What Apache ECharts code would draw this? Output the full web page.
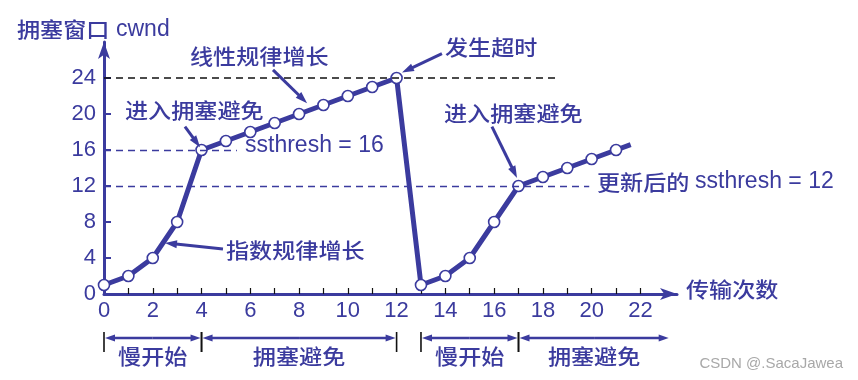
<!DOCTYPE html>
<html><head><meta charset="utf-8">
<script src="https://cdn.jsdelivr.net/npm/echarts@6/dist/echarts.min.js"></script>
<style>html,body{margin:0;padding:0;background:#fff}#c{width:858px;height:380px}</style>
</head><body><div id="c"></div>
<script>
// ---- data ----
const rounds = [0,1,2,3,4,5,6,7,8,9,10,11,12,13,14,15,16,17,18,19,20,21,21.6];
const cwnd   = [1,2,4,8,16,17,18,19,20,21,22,23,24,1,2,4,8,12,13,14,15,16,16.6];
const xLabelValues = [0,2,4,6,8,10,12,14,16,18,20,22];
const xTickValues  = [1,2,3,4,5,6,7,8,9,10,11,12,13,14,15,16,17,18,19,20,21,22];
const yLabelValues = [0,4,8,12,16,20,24];
const timeoutCwnd = 24;
const ssthresh1 = 16;
const ssthresh2 = 12;
const phaseNames = ['慢开始','拥塞避免','慢开始','拥塞避免'];
const phaseStart = [0,4,13,17];
const phaseEnd   = [4,12,17,23.2];

// ---- style ----
const BLUE = '#3b3b9e';
const CJK = '"Noto Sans CJK SC", sans-serif';
const LAT = '"Liberation Sans", Arial, sans-serif';
const CJKFONT = '500 21px ' + CJK;
const LATFONT = '23px ' + LAT;

const chart = echarts.init(document.getElementById('c'), null, {renderer:'canvas'});

const option = {
  backgroundColor:'#fff',
  animation:false,
  grid:{left:104, right:181, top:42, bottom:86, containLabel:false},
  xAxis:{
    type:'value', min:0, max:23.5,
    axisLine:{show:true, symbol:['none','arrow'], symbolSize:[9,17], lineStyle:{color:BLUE, width:3}},
    axisTick:{show:true, inside:true, length:6, customValues:xTickValues, lineStyle:{color:'#111', width:1.2}},
    axisLabel:{customValues:xLabelValues, color:BLUE, fontFamily:LAT, fontSize:22, margin:6},
    splitLine:{show:false}
  },
  yAxis:{
    type:'value', min:0, max:28,
    axisLine:{show:true, symbol:['none','arrow'], symbolSize:[9,17], lineStyle:{color:BLUE, width:3}},
    axisTick:{show:true, inside:true, length:7, customValues:yLabelValues, lineStyle:{color:BLUE, width:2}},
    axisLabel:{customValues:yLabelValues, color:BLUE, fontFamily:LAT, fontSize:22, margin:8},
    splitLine:{show:false}
  },
  series:[
    {
      type:'line', data:[], silent:true, z:1,
      markLine:{
        silent:true, symbol:['none','none'], label:{show:false},
        data:[
          [{coord:[0,timeoutCwnd], lineStyle:{color:'#111', type:[7,5], width:1.6}},{coord:[18.5,timeoutCwnd]}],
          [{coord:[0,ssthresh1], lineStyle:{color:BLUE, type:[7,5], width:1.3}},{coord:[5.45,ssthresh1]}],
          [{coord:[0,ssthresh2], lineStyle:{color:BLUE, type:[7,5], width:1.3}},{coord:[19.9,ssthresh2]}]
        ]
      }
    },
    {
      type:'line', z:3,
      data: rounds.map((r,i)=> i===rounds.length-1 ? {value:[r,cwnd[i]], symbol:'none'} : [r,cwnd[i]]),
      symbol:'circle', symbolSize:11,
      itemStyle:{color:'#fff', borderColor:BLUE, borderWidth:1.6},
      lineStyle:{color:BLUE, width:5},
      showAllSymbol:true
    }
  ]
};
chart.setOption(option);

function px(p){ return chart.convertToPixel({gridIndex:0}, p); }
function arrow(p0, p1, color, w, hl, hw){
  const dx=p1[0]-p0[0], dy=p1[1]-p0[1], L=Math.hypot(dx,dy), ux=dx/L, uy=dy/L;
  const bx=p1[0]-ux*hl, by=p1[1]-uy*hl, nx=-uy, ny=ux;
  return [
    {type:'line', z:20, shape:{x1:p0[0],y1:p0[1],x2:bx+ux*1,y2:by+uy*1}, style:{stroke:color, lineWidth:w}},
    {type:'polygon', z:20, shape:{points:[[p1[0],p1[1]],[bx+nx*hw/2,by+ny*hw/2],[bx-nx*hw/2,by-ny*hw/2]]}, style:{fill:color}}
  ];
}
function txt(t, x, y, opt, sx){
  return {type:'text', z:20, x:x, y:y, scaleX:(sx||1.1), style:Object.assign({text:t, fill:BLUE, font:CJKFONT, verticalAlign:'middle', align:'left'}, opt||{})};
}

const g = [];
// annotation arrows (data-space anchors)
const annArrows = [
  [[6.93,24.9],[8.33,21.2]],
  [[13.86,26.7],[12.22,24.6]],
  [[3.32,18.6],[3.94,16.3]],
  [[15.91,18.6],[16.94,12.9]],
  [[4.88,5.0],[2.5,5.67]]
];
annArrows.forEach(a=>{ g.push(...arrow(px(a[0]), px(a[1]), BLUE, 3, 12, 8)); });

// phase brackets under the axis
const yAxisPx = px([0,0])[1];
const brY = yAxisPx + 44;
for (let i=0;i<phaseNames.length;i++){
  const x0 = px([phaseStart[i],0])[0], x1 = px([phaseEnd[i],0])[0];
  const mid = (x0+x1)/2;
  g.push(...arrow([mid,brY],[x0+1,brY], BLUE, 2.5, 10, 7));
  g.push(...arrow([mid,brY],[x1-1,brY], BLUE, 2.5, 10, 7));
  g.push({type:'line', z:20, shape:{x1:x0,y1:brY-6,x2:x0,y2:brY+14}, style:{stroke:'#111', lineWidth:1.6}});
  if (i < phaseNames.length-1) {
    g.push({type:'line', z:20, shape:{x1:x1,y1:brY-6,x2:x1,y2:brY+14}, style:{stroke:'#111', lineWidth:1.6}});
  }
  g.push(txt(phaseNames[i], mid, brY+18, {align:'center'}));
}

// text annotations
g.push(txt('拥塞窗口', 17, 29));
g.push(txt('cwnd', 116, 30, {font:LATFONT}, 1));
g.push(txt('线性规律增长', 190, 56));
g.push(txt('发生超时', 445, 47));
g.push(txt('进入拥塞避免', 125, 110));
g.push(txt('进入拥塞避免', 444, 113));
g.push(txt('ssthresh = 16', 245, 146, {font:LATFONT}, 1));
g.push(txt('更新后的', 597, 182));
g.push(txt('ssthresh = 12', 695, 182, {font:LATFONT}, 1));
g.push(txt('指数规律增长', 226, 250));
g.push(txt('传输次数', 686, 289));
g.push(txt('CSDN @.SacaJawea', 843, 364, {font:'15px '+LAT, fill:'#a8a8a8', align:'right'}, 1));

chart.setOption({graphic:{elements:g}});
</script></body></html>
